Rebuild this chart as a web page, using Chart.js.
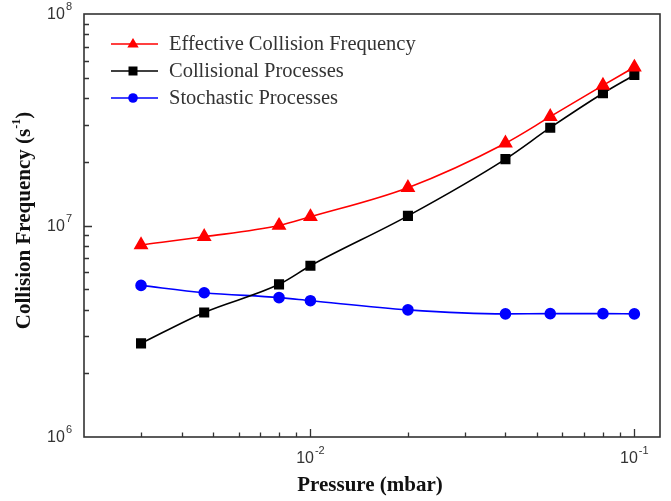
<!DOCTYPE html>
<html>
<head>
<meta charset="utf-8">
<script src="https://cdn.jsdelivr.net/npm/chart.js@4.4.1/dist/chart.umd.min.js"></script>
<style>
  body { margin: 0; background: #fff; }
  canvas { display: block; }
</style>
</head>
<body>
<canvas id="grafica" width="671" height="501"></canvas>
<script>
// datos
const presion = [0.003, 0.0047, 0.008, 0.01, 0.02, 0.04, 0.055, 0.08, 0.1];
const efectiva = [8.1e6, 8.85e6, 1.0e7, 1.1e7, 1.51e7, 2.45e7, 3.27e7, 4.6e7, 5.6e7];
const colisional = [2.77e6, 3.88e6, 5.27e6, 6.45e6, 1.11e7, 2.06e7, 2.9e7, 4.22e7, 5.15e7];
const estocastica = [5.21e6, 4.81e6, 4.56e6, 4.41e6, 3.99e6, 3.82e6, 3.83e6, 3.83e6, 3.82e6];

const etiquetas = ['Effective Collision Frequency', 'Collisional Processes', 'Stochastic Processes'];
const colores = ['#ff0000', '#000000', '#0000ff'];
const marcadores = ['triangle', 'rect', 'circle'];

const xTicksMayores = [0.01, 0.1];
const yTicksMayores = [1e6, 1e7, 1e8];

function serie(valores) {
    return presion.map((p, i) => ({ x: p, y: valores[i] }));
}

// dibuja "10" con exponente en superindice
function dibujarPotencia(ctx, exp, x, y, align) {
    ctx.font = '16px "Liberation Sans", Arial, sans-serif';
    const wBase = ctx.measureText('10').width;
    ctx.font = '11px "Liberation Sans", Arial, sans-serif';
    const wExp = ctx.measureText(exp).width;
    const total = wBase + wExp + 1;
    let x0 = x;
    if (align === 'center') x0 = x - total / 2;
    if (align === 'right') x0 = x - total;
    ctx.textAlign = 'left';
    ctx.textBaseline = 'middle';
    ctx.font = '16px "Liberation Sans", Arial, sans-serif';
    ctx.fillText('10', x0, y);
    ctx.font = '11px "Liberation Sans", Arial, sans-serif';
    ctx.fillText(exp, x0 + wBase + 1, y - 8);
}

function dibujarMarcador(ctx, tipo, x, y, r, color) {
    ctx.fillStyle = color;
    ctx.beginPath();
    if (tipo === 'triangle') {
        ctx.moveTo(x, y - r);
        ctx.lineTo(x + r * 0.95, y + r * 0.6);
        ctx.lineTo(x - r * 0.95, y + r * 0.6);
        ctx.closePath();
    } else if (tipo === 'rect') {
        ctx.rect(x - r * 0.75, y - r * 0.75, r * 1.5, r * 1.5);
    } else {
        ctx.arc(x, y, r * 0.8, 0, Math.PI * 2);
    }
    ctx.fill();
}

const marcoYEtiquetas = {
    id: 'marcoYEtiquetas',
    afterDraw(chart) {
        const ctx = chart.ctx;
        const area = chart.chartArea;
        const sx = chart.scales.x;
        const sy = chart.scales.y;
        ctx.save();

        // marco
        ctx.strokeStyle = '#333';
        ctx.lineWidth = 1.6;
        ctx.strokeRect(area.left, area.top, area.right - area.left, area.bottom - area.top);

        // ticks hacia dentro
        ctx.lineWidth = 1.3;
        ctx.beginPath();
        for (let d = -3; d <= -1; d++) {
            for (let m = 1; m <= 9; m++) {
                const v = m * Math.pow(10, d);
                if (v <= sx.min || v >= sx.max) continue;
                const px = Math.round(sx.getPixelForValue(v)) + 0.5;
                const largo = m === 1 ? 8 : 4.5;
                ctx.moveTo(px, area.bottom);
                ctx.lineTo(px, area.bottom - largo);
            }
        }
        for (let d = 6; d <= 7; d++) {
            for (let m = 1; m <= 9; m++) {
                const v = m * Math.pow(10, d);
                if (v <= sy.min || v >= sy.max) continue;
                const py = Math.round(sy.getPixelForValue(v)) + 0.5;
                const largo = m === 1 ? 8 : 5;
                ctx.moveTo(area.left, py);
                ctx.lineTo(area.left + largo, py);
            }
        }
        ctx.stroke();

        // etiquetas de los ejes
        ctx.fillStyle = '#333';
        xTicksMayores.forEach(v => {
            const exp = String(Math.round(Math.log10(v)));
            dibujarPotencia(ctx, exp, sx.getPixelForValue(v), area.bottom + 22, 'center');
        });
        yTicksMayores.forEach(v => {
            const exp = String(Math.round(Math.log10(v)));
            dibujarPotencia(ctx, exp, area.left - 12, sy.getPixelForValue(v) + 1, 'right');
        });

        // titulos
        const fuenteTitulo = 'bold 21px "Liberation Serif", "Times New Roman", serif';
        const fuenteSup = 'bold 12px "Liberation Serif", "Times New Roman", serif';
        ctx.fillStyle = '#111';
        ctx.font = fuenteTitulo;
        ctx.textAlign = 'center';
        ctx.textBaseline = 'middle';
        ctx.fillText('Pressure (mbar)', (area.left + area.right) / 2 - 2, area.bottom + 49);

        ctx.save();
        ctx.translate(25, (area.top + area.bottom) / 2 - 5);
        ctx.rotate(-Math.PI / 2);
        const parte1 = 'Collision Frequency (s';
        const parte3 = ')';
        ctx.font = fuenteTitulo;
        const w1 = ctx.measureText(parte1).width;
        const w3 = ctx.measureText(parte3).width;
        ctx.font = fuenteSup;
        const w2 = ctx.measureText('-1').width;
        const x0 = -(w1 + w2 + w3) / 2;
        ctx.textAlign = 'left';
        ctx.font = fuenteTitulo;
        ctx.fillText(parte1, x0, 0);
        ctx.font = fuenteSup;
        ctx.fillText('-1', x0 + w1, -8);
        ctx.font = fuenteTitulo;
        ctx.fillText(parte3, x0 + w1 + w2, 0);
        ctx.restore();

        // leyenda
        etiquetas.forEach((texto, i) => {
            const y = 44 + i * 27;
            ctx.strokeStyle = colores[i];
            ctx.lineWidth = 1.6;
            ctx.beginPath();
            ctx.moveTo(111, y);
            ctx.lineTo(158, y);
            ctx.stroke();
            dibujarMarcador(ctx, marcadores[i], 133, y, 6, colores[i]);
            ctx.fillStyle = '#333';
            ctx.font = '20.5px "Liberation Serif", "Times New Roman", serif';
            ctx.textAlign = 'left';
            ctx.textBaseline = 'middle';
            ctx.fillText(texto, 169, y + 1);
        });

        ctx.restore();
    }
};

const ctx = document.getElementById('grafica').getContext('2d');
new Chart(ctx, {
    type: 'line',
    data: {
        datasets: [
            {
                label: etiquetas[0],
                data: serie(efectiva),
                borderColor: colores[0],
                backgroundColor: colores[0],
                pointStyle: 'triangle',
                pointRadius: 7,
                borderWidth: 1.6,
                cubicInterpolationMode: 'monotone'
            },
            {
                label: etiquetas[1],
                data: serie(colisional),
                borderColor: colores[1],
                backgroundColor: colores[1],
                pointStyle: 'rect',
                pointRadius: 6,
                borderWidth: 1.6,
                cubicInterpolationMode: 'monotone'
            },
            {
                label: etiquetas[2],
                data: serie(estocastica),
                borderColor: colores[2],
                backgroundColor: colores[2],
                pointStyle: 'circle',
                pointRadius: 5,
                borderWidth: 1.6,
                cubicInterpolationMode: 'monotone'
            }
        ]
    },
    options: {
        responsive: false,
        animation: false,
        layout: {
            padding: { left: 84, top: 14, right: 11, bottom: 64 }
        },
        plugins: {
            legend: { display: false },
            tooltip: { enabled: false }
        },
        scales: {
            x: {
                type: 'logarithmic',
                min: 0.002,
                max: 0.12,
                display: false
            },
            y: {
                type: 'logarithmic',
                min: 1e6,
                max: 1e8,
                display: false
            }
        }
    },
    plugins: [marcoYEtiquetas]
});
</script>
</body>
</html>
